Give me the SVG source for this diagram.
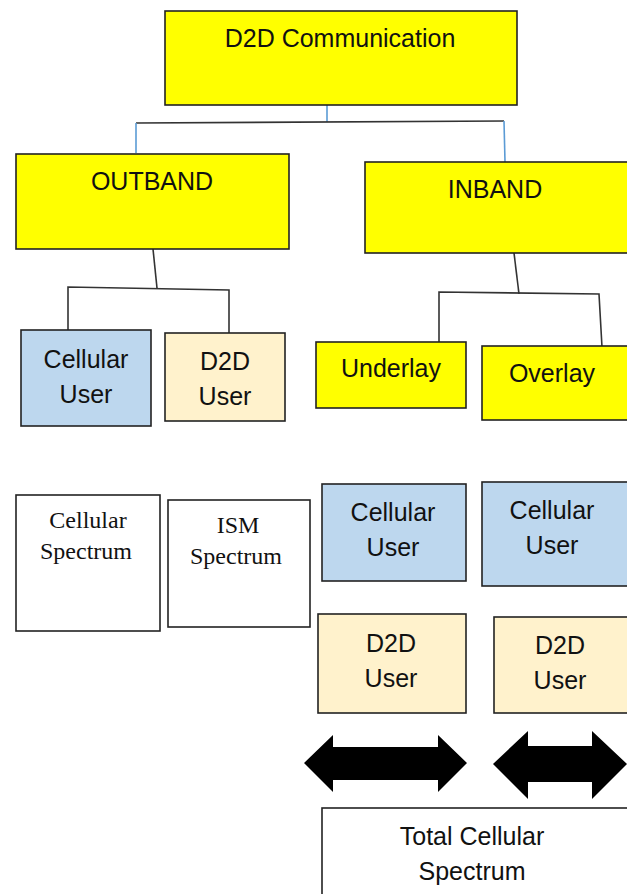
<svg xmlns="http://www.w3.org/2000/svg" width="627" height="894" viewBox="0 0 627 894">
<style>
.box{stroke:#222;stroke-width:1.6}
.y{fill:#ffff00}
.b{fill:#bdd7ee}
.o{fill:#fff2cc}
.w{fill:#ffffff}
.t{font-family:"Liberation Sans",Arial,sans-serif;font-size:25px;fill:#111;text-anchor:middle}
.s{font-family:"Liberation Serif","Times New Roman",serif;font-size:24px;fill:#111;text-anchor:middle}
.c{fill:none;stroke:#333;stroke-width:1.6}
.cb{fill:none;stroke:#5b9bd5;stroke-width:1.6}
</style>
<rect width="627" height="894" fill="#ffffff"/>
<g id="connectors">
<path class="cb" d="M327,105 V122"/>
<path class="c" d="M136,123 L504,121"/>
<path class="cb" d="M136,123 V153"/>
<path class="cb" d="M504,121 L505,162"/>
<path class="c" d="M153,249 L157,288"/>
<path class="c" d="M68,331 V287 L229,290 V334"/>
<path class="c" d="M514,253 L519,294"/>
<path class="c" d="M439,342 V292 L599,294 L602,347"/>
</g>
<g id="d2d-communication"><rect class="box y" x="165" y="11" width="352" height="94"/><text class="t" x="340" y="47">D2D Communication</text></g>
<g id="outband"><rect class="box y" x="16" y="154" width="273" height="95"/><text class="t" x="152" y="190">OUTBAND</text></g>
<g id="inband"><rect class="box y" x="365" y="162" width="264" height="91"/><text class="t" x="495" y="198">INBAND</text></g>
<g id="out-cellular-user"><rect class="box b" x="21" y="330" width="130" height="96"/><text class="t" x="86" y="368">Cellular</text><text class="t" x="86" y="403">User</text></g>
<g id="out-d2d-user"><rect class="box o" x="165" y="333" width="120" height="88"/><text class="t" x="225" y="370">D2D</text><text class="t" x="225" y="405">User</text></g>
<g id="underlay"><rect class="box y" x="316" y="342" width="150" height="66"/><text class="t" x="391" y="377">Underlay</text></g>
<g id="overlay"><rect class="box y" x="482" y="346" width="147" height="74"/><text class="t" x="552" y="382">Overlay</text></g>
<g id="cellular-spectrum"><rect class="box w" x="16" y="495" width="144" height="136"/><text class="s" x="88" y="528">Cellular</text><text class="s" x="86" y="559">Spectrum</text></g>
<g id="ism-spectrum"><rect class="box w" x="168" y="500" width="142" height="127"/><text class="s" x="238" y="533">ISM</text><text class="s" x="236" y="564">Spectrum</text></g>
<g id="under-cellular-user"><rect class="box b" x="322" y="484" width="144" height="97"/><text class="t" x="393" y="521">Cellular</text><text class="t" x="393" y="556">User</text></g>
<g id="over-cellular-user"><rect class="box b" x="482" y="482" width="147" height="104"/><text class="t" x="552" y="519">Cellular</text><text class="t" x="552" y="554">User</text></g>
<g id="under-d2d-user"><rect class="box o" x="318" y="614" width="148" height="99"/><text class="t" x="391" y="652">D2D</text><text class="t" x="391" y="687">User</text></g>
<g id="over-d2d-user"><rect class="box o" x="494" y="617" width="135" height="96"/><text class="t" x="560" y="654">D2D</text><text class="t" x="560" y="689">User</text></g>
<g id="arrow-left"><polygon fill="#000" points="304,763 333,735 333,747 438,747 438,735 467,763 438,792 438,780 333,780 333,792"/></g>
<g id="arrow-right"><polygon fill="#000" points="493,764 528,731 528,746 592,746 592,731 627,764 592,799 592,782 528,782 528,799"/></g>
<g id="total-cellular-spectrum"><rect class="box w" x="322" y="808" width="307" height="90"/><text class="t" x="472" y="845">Total Cellular</text><text class="t" x="472" y="880">Spectrum</text></g>
</svg>
